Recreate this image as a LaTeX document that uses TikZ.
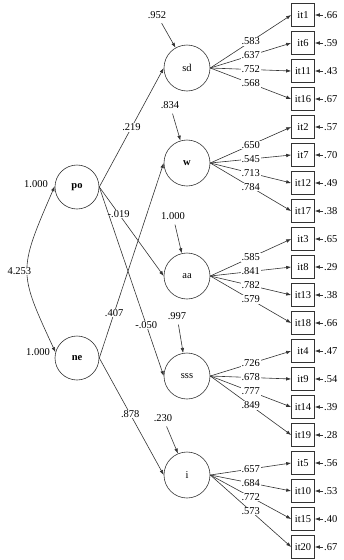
\documentclass[tikz,border=0pt]{standalone}
\usepackage{fontspec}
\setmainfont{Liberation Serif}
\usetikzlibrary{arrows.meta}
\begin{document}
\begin{tikzpicture}[x=1pt,y=-1pt,
  font=\fontsize{10.5}{12}\selectfont,
  line/.style={draw=black!80, line width=0.6pt},
  tip/.style={-{Latex[length=5pt,width=3.6pt]}},
  both/.style={{Latex[length=5pt,width=3.6pt]}-{Latex[length=5pt,width=3.6pt]}},
  latent/.style={circle, draw=black!80, line width=0.6pt, minimum size=46pt, inner sep=0pt},
  item/.style={rectangle, draw=black!80, line width=0.6pt, minimum width=23pt, minimum height=23pt, inner sep=0pt},
  coef/.style={fill=white, inner sep=0.6pt},
  errlab/.style={inner sep=1pt}]
\useasboundingbox (0,0) rectangle (343,560);

% first-order factors
\node[latent] (sd)  at (187,68)  {sd};
\node[latent] (w)   at (187,163) {\textbf{w}};
\node[latent] (aa)  at (187,276) {aa};
\node[latent] (sss) at (187,376) {sss};
\node[latent] (i)   at (187,475) {i};

% exogenous factors
\node[latent, minimum size=44pt] (po) at (77,187) {\textbf{po}};
\node[latent, minimum size=44pt] (ne) at (77,358) {\textbf{ne}};

% variances and covariance of the exogenous factors
\node[inner sep=0.5pt] (vpo) at (36,184) {1.000};
\node[inner sep=0.5pt] (vne) at (38,352) {1.000};
\draw[line,both] (po.178) .. controls +(-37,85) and +(-37,-80) ..
  node[coef,pos=0.5,xshift=-8pt] {4.253} (ne.165);

% structural paths
\draw[line,tip] (po.east) -- node[coef,pos=0.5]  {.219}  (sd.west);
\draw[line,tip] (po.east) -- node[coef,pos=0.3]  {-.019} (aa.west);
\draw[line,tip] (po.east) -- node[coef,pos=0.73] {-.050} (sss.west);
\draw[line,tip] (ne.east) -- node[coef,pos=0.23] {.407}  (w.west);
\draw[line,tip] (ne.east) -- node[coef,pos=0.48] {.878}  (i.west);

% disturbances of the first-order factors
\node[errlab] (dsd)  at (157,15)  {.952};
\node[errlab] (dw)   at (170,105) {.834};
\node[errlab] (daa)  at (173,216) {1.000};
\node[errlab] (dsss) at (177,316) {.997};
\node[errlab] (di)   at (163,418) {.230};
\foreach \d/\f in {dsd/sd, dw/w, daa/aa, dsss/sss, di/i}
  \draw[line,tip,shorten <=4pt] (\d) -- (\f);

% indicators, loadings and error terms
\foreach \lat/\nm/\yy/\ld/\er in {
  sd/it1/15/.583/.66,   sd/it6/43/.637/.59,   sd/it11/71/.752/.43,   sd/it16/99/.568/.67,
  w/it2/127/.650/.57,   w/it7/155/.545/.70,   w/it12/183/.713/.49,   w/it17/211/.784/.38,
  aa/it3/239/.585/.65,  aa/it8/267/.841/.29,  aa/it13/295/.782/.38,  aa/it18/323/.579/.66,
  sss/it4/351/.726/.47, sss/it9/379/.678/.54, sss/it14/407/.777/.39, sss/it19/435/.849/.28,
  i/it5/463/.657/.56,   i/it10/491/.684/.53,  i/it15/519/.772/.40,   i/it20/547/.573/.67}{
  \node[item] (\nm) at (303,\yy) {\nm};
  \node[errlab, anchor=west] (e\nm) at (323,\yy) {\er};
  \draw[line,tip] (e\nm) -- (\nm.east);
  \draw[line,tip] (\lat.east) -- node[coef] {\ld} (\nm.west);
}
\end{tikzpicture}
\end{document}
